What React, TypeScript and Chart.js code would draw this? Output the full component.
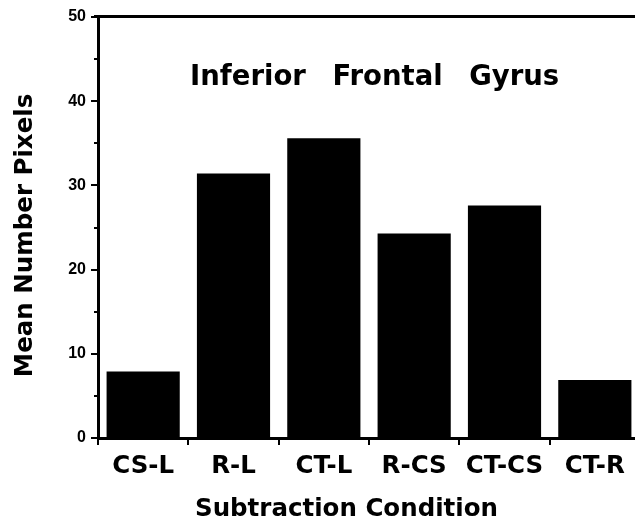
import React, { useEffect, useRef } from "react";
import { Chart, registerables } from "chart.js";

Chart.register(...registerables);

const categories = ["CS-L", "R-L", "CT-L", "R-CS", "CT-CS", "CT-R"];
const meanPixels = [7.9, 31.4, 35.6, 24.3, 27.6, 6.9];
const yTicks = [0, 10, 20, 30, 40, 50];
const minorTicks = [5, 15, 25, 35, 45];
const chartTitle = "Inferior Frontal Gyrus";
const xTitle = "Subtraction Condition";
const yTitle = "Mean Number Pixels";

const BOLD = "'DejaVu Sans', sans-serif";
const NUM = "'Liberation Sans', Arial, sans-serif";

export default function App() {
  const ref = useRef<HTMLCanvasElement>(null);

  useEffect(() => {
    const canvas = ref.current;
    if (!canvas) return;

    const decor = {
      id: "decor",
      afterDraw(chart: any) {
        const { ctx, chartArea, scales } = chart;
        const y = scales.y;
        ctx.save();
        ctx.strokeStyle = "#000";
        // top frame line
        ctx.lineWidth = 3;
        ctx.beginPath();
        ctx.moveTo(chartArea.left - 4, chartArea.top - 0.5);
        ctx.lineTo(chart.width, chartArea.top - 0.5);
        ctx.stroke();
        // minor ticks on y axis
        ctx.lineWidth = 2;
        minorTicks.forEach((v) => {
          const py = Math.round(y.getPixelForValue(v));
          ctx.beginPath();
          ctx.moveTo(chartArea.left - 4, py);
          ctx.lineTo(chartArea.left, py);
          ctx.stroke();
        });
        // texts
        ctx.fillStyle = "#000";
        ctx.textBaseline = "alphabetic";
        ctx.textAlign = "left";
        ctx.font = `bold 27.5px ${BOLD}`;
        (ctx as any).wordSpacing = "17px";
        ctx.fillText(chartTitle, 190, 85);
        (ctx as any).wordSpacing = "0px";
        ctx.font = `bold 24.5px ${BOLD}`;
        ctx.fillText(xTitle, 195, 516);
        ctx.translate(32, 235.5);
        ctx.rotate(-Math.PI / 2);
        ctx.textAlign = "center";
        ctx.fillText(yTitle, 0, 0);
        ctx.restore();
      },
    };

    const chart = new Chart(canvas, {
      type: "bar",
      data: {
        labels: categories,
        datasets: [
          {
            data: meanPixels,
            backgroundColor: "#000",
            borderWidth: 0,
            barPercentage: 0.81,
            categoryPercentage: 1,
          },
        ],
      },
      options: {
        responsive: false,
        animation: false,
        devicePixelRatio: 1,
        layout: { padding: { top: 17, right: 5, left: 0, bottom: 0 } },
        plugins: {
          legend: { display: false },
          tooltip: { enabled: false },
          title: { display: false },
        },
        scales: {
          x: {
            grid: {
              display: true,
              drawOnChartArea: false,
              drawTicks: true,
              tickLength: 7,
              lineWidth: 2,
              color: "#000",
              offset: true,
            },
            border: { display: true, width: 3, color: "#000" },
            ticks: {
              color: "#000",
              font: { family: BOLD, weight: "bold", size: 24.5 },
              padding: 7,
              maxRotation: 0,
              autoSkip: false,
            },
            afterFit: (s: any) => {
              s.height = 84;
            },
          },
          y: {
            min: 0,
            max: 50,
            afterBuildTicks: (s: any) => {
              s.ticks = yTicks.map((v) => ({ value: v }));
            },
            grid: {
              drawOnChartArea: false,
              tickLength: 7,
              lineWidth: 2,
              color: "#000",
            },
            border: { display: true, width: 3, color: "#000" },
            ticks: {
              color: "#000",
              font: { family: NUM, weight: "bold", size: 16 },
              padding: 5,
            },
            afterFit: (s: any) => {
              s.width = 98;
            },
          },
        },
      },
      plugins: [decor],
    });

    return () => chart.destroy();
  }, []);

  return (
    <div
      style={{
        position: "fixed",
        left: 0,
        top: 0,
        width: 635,
        height: 522,
        overflow: "hidden",
        background: "#fff",
      }}
    >
      <canvas ref={ref} width={645} height={522} style={{ display: "block" }} />
    </div>
  );
}
